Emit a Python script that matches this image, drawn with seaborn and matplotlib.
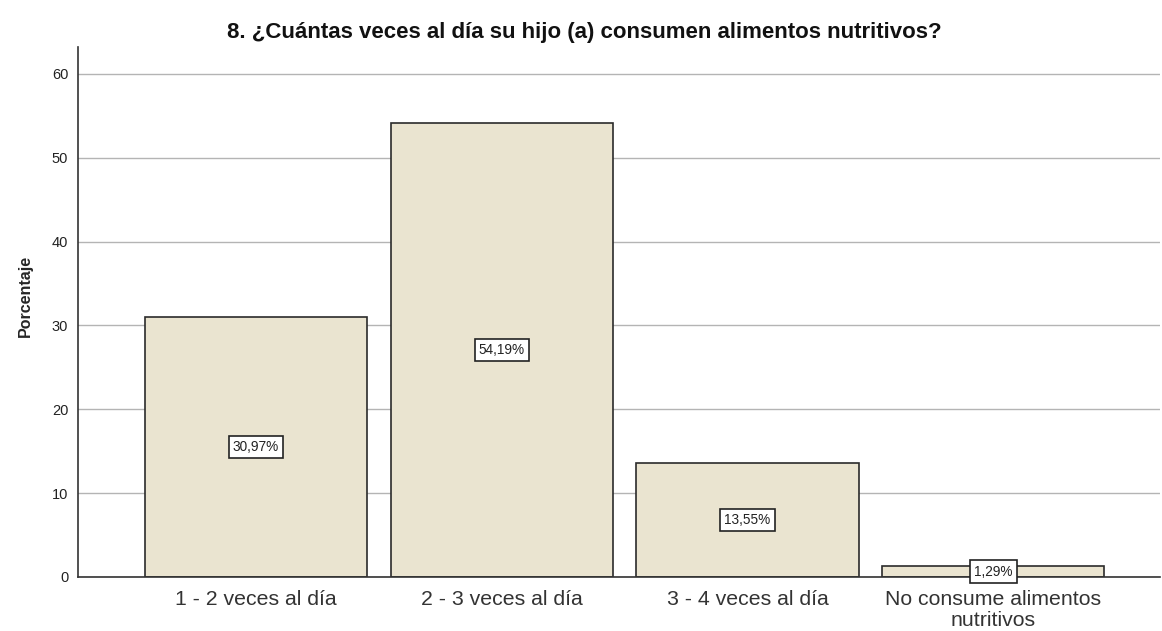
import pandas as pd
import seaborn as sns
import matplotlib.pyplot as plt

# Data
categories = ['1 - 2 veces al día', '2 - 3 veces al día', '3 - 4 veces al día',
              'No consume alimentos\nnutritivos']
percentages = [30.97, 54.19, 13.55, 1.29]
y_ticks = [0, 10, 20, 30, 40, 50, 60]

data = pd.DataFrame({'Categoria': categories, 'Porcentaje': percentages})

sns.set_style('white')
plt.rcParams['font.family'] = ['Liberation Sans', 'DejaVu Sans']

fig = plt.figure(figsize=(11.62, 6.31), dpi=100)
ax = fig.add_axes([0.0671, 0.0856, 0.931, 0.84])

sns.barplot(data=data, x='Categoria', y='Porcentaje', color='#EAE4D0',
            edgecolor='#2b2b2b', linewidth=1.2, width=0.904, saturation=1, ax=ax)

ax.set_xlim(-0.725, 3.678)
ax.set_ylim(0, 63.2)
ax.set_yticks(y_ticks)
ax.yaxis.grid(True, color='#b4b4b4', linewidth=1)
ax.set_axisbelow(True)

for spine in ['top', 'right']:
    ax.spines[spine].set_visible(False)
for spine in ['left', 'bottom']:
    ax.spines[spine].set_color('#333333')
    ax.spines[spine].set_linewidth(1.2)

# Value labels in the middle of each bar
for i, v in enumerate(percentages):
    ax.text(i, v / 2, f'{v:.2f}%'.replace('.', ','), ha='center', va='center',
            fontsize=9.8, color='#222222',
            bbox=dict(boxstyle='square,pad=0.3', facecolor='white',
                      edgecolor='#222222', linewidth=1.2))

ax.tick_params(axis='x', labelsize=15.3, length=0, pad=9.5, labelcolor='#333333')
ax.tick_params(axis='y', labelsize=10.5, length=0, pad=7, labelcolor='#222222')
for lbl in ax.get_xticklabels():
    lbl.set_linespacing(1.12)

ax.set_xlabel('')
ax.set_ylabel('Porcentaje', fontsize=11.5, fontweight='bold')
ax.yaxis.set_label_coords(-0.042, 0.53)
fig.text(0.5026, 0.9398,
         '8. ¿Cuántas veces al día su hijo (a) consumen alimentos nutritivos?',
         fontsize=16, fontweight='bold', ha='center', va='baseline', color='#111111')

plt.savefig('out.png', dpi=100)
